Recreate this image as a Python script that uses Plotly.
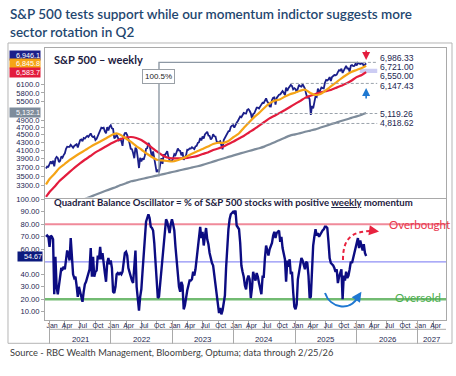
import math
import pandas as pd
import plotly.graph_objects as go

# ---------------- data ----------------
TITLE = "S&P 500 tests support while our momentum indictor suggests more<br>sector rotation in Q2"
SOURCE = "Source - RBC Wealth Management, Bloomberg, Optuma; data through 2/25/26"
PANEL1_TITLE = "S&P 500 – weekly"
PANEL2_TITLE = "Quadrant Balance Oscillator = % of S&P 500 stocks with positive <u>weekly</u> momentum"

week_start = "2020-12-11"  # first weekly bar (Fridays)

spx_close = [
    3663, 3709, 3703, 3756,
    3825, 3768, 3841, 3714, 3887, 3934, 3907, 3811, 3842, 3943, 3913, 3975,
    4020, 4129, 4185, 4180, 4181, 4233, 4174, 4156, 4204, 4230, 4247, 4166, 4281,
    4352, 4370, 4327, 4412, 4395, 4437, 4468, 4441, 4509, 4535, 4459, 4433, 4455,
    4357, 4391, 4471, 4545, 4605, 4698, 4683, 4698, 4595, 4538, 4712, 4620, 4725, 4766,
    4677, 4663, 4398, 4432, 4501, 4419, 4349, 4385, 4329, 4204, 4463, 4543,
    4546, 4488, 4393, 4272, 4132, 4123, 4024, 3901, 4158, 4109, 3901, 3675, 3912,
    3825, 3899, 3863, 3962, 4130, 4145, 4280, 4228, 4058, 3924, 4067, 3873, 3693, 3586,
    3640, 3583, 3753, 3901, 3771, 3993, 3965, 4026, 4072, 3934, 3852, 3845, 3840,
    3895, 3999, 3973, 4071, 4136, 4090, 4079, 3970, 4046, 3862, 3917, 3971, 4109,
    4105, 4138, 4134, 4169, 4136, 4124, 4192, 4205, 4282, 4299, 4410, 4348, 4450,
    4399, 4505, 4536, 4582, 4478, 4464, 4370, 4406, 4515, 4457, 4450, 4320, 4288,
    4308, 4327, 4224, 4117, 4358, 4415, 4514, 4559, 4595, 4604, 4719, 4754, 4770,
    4697, 4784, 4840, 4891, 4959, 5027, 5006, 5089, 5137, 5124, 5117, 5234, 5254,
    5204, 5123, 4967, 5100, 5128, 5223, 5303, 5305, 5278, 5347, 5432, 5465, 5460,
    5567, 5615, 5505, 5459, 5347, 5344, 5554, 5635, 5648, 5408, 5626, 5703, 5738,
    5751, 5815, 5865, 5808, 5729, 5995, 5870, 5969, 6032, 6090, 6051, 5931, 5971,
    5942, 5827, 5997, 6101, 6041, 6026, 6115, 6013, 5955, 5770, 5639, 5668, 5581,
    5074, 5363, 5283, 5525, 5687, 5660, 5958, 5802, 5912, 6000, 5977, 5967, 6173,
    6279, 6260, 6297, 6389, 6238, 6389, 6450, 6467, 6460, 6482, 6584, 6664, 6644,
    6716, 6553, 6664, 6792, 6840, 6729, 6734, 6603, 6849, 6870, 6827, 6834, 6930,
    6858, 6966, 6940, 6915, 6939, 6932, 6836, 6909, 6946.1,
]

osc_values = [
    70, 71, 70, 62, 71, 70, 68, 24, 54, 30,
    24, 32, 36, 45, 44, 46, 44, 52, 59, 56,
    51, 69, 55, 40, 37, 38, 31, 22, 30, 26,
    22, 18, 26, 32, 34, 38, 40, 44, 61, 38,
    54, 38, 42, 43, 55, 52, 62, 52, 57, 47,
    41, 34, 49, 53, 48, 51, 45, 26, 25, 30,
    40, 41, 40, 41, 40, 42, 50, 57, 58, 55,
    45, 41, 38, 35, 33, 50, 59, 30, 22, 11,
    22, 28, 42, 55, 70, 82, 85, 88, 85, 78,
    77, 75, 65, 52, 35, 21, 22, 33, 44, 54,
    63, 74, 84, 82, 76, 73, 80, 84, 80, 75,
    62, 50, 40, 30, 26, 34, 31, 12, 15, 22,
    27, 31, 35, 35, 36, 42, 39, 44, 52, 60,
    69, 78, 69, 74, 63, 70, 77, 68, 64, 57,
    52, 49, 47, 39, 31, 20, 14, 9, 13, 8,
    11, 16, 23, 45, 62, 76, 84, 88, 89, 90,
    89, 91, 79, 77, 76, 65, 47, 42, 38, 31,
    28, 36, 39, 36, 21, 29, 42, 38, 35, 41,
    38, 33, 28, 24, 38, 38, 53, 63, 59, 55,
    60, 62, 65, 71, 74, 69, 73, 74, 75, 66,
    70, 61, 57, 52, 34, 51, 46, 52, 40, 42,
    26, 14, 12, 16, 36, 42, 47, 53, 51, 46,
    44, 50, 49, 39, 21, 22, 42, 63, 70, 76,
    71, 73, 70, 72, 73, 75, 76, 78, 78, 77,
    66, 53, 49, 48, 47, 45, 42, 44, 33, 38,
    42, 44, 20, 39, 35, 42, 37, 39, 44, 50,
    49, 53, 55, 60, 63, 69, 61, 67, 63, 59,
    64, 57, 54.67,
]

# moving averages, read monthly: first bar, 1st of each month Jan-2021..Feb-2026, last bar
ma_dates = (["2020-12-11"]
            + [f"{y}-{m:02d}-01" for y in range(2021, 2027) for m in range(1, 13) if (y, m) <= (2026, 2)]
            + ["2026-02-27"])
ma_orange = [3324,
             3438, 3555, 3675, 3766, 3859, 3942, 4019, 4097, 4178, 4252, 4323, 4397,
             4479, 4534, 4493, 4397, 4306, 4201, 4113, 4014, 3930, 3864, 3848, 3836,
             3824, 3852, 3894, 3953, 4014, 4076, 4126, 4188, 4252, 4286, 4283, 4331,
             4438, 4534, 4689, 4846, 5001, 5139, 5295, 5442, 5537, 5573, 5676, 5758,
             5810, 5883, 5919, 5800, 5730, 5765, 5889, 6034, 6181, 6332, 6470, 6587,
             6671, 6752,
             6845.8]
ma_red = [3085,
          3177, 3285, 3396, 3493, 3590, 3690, 3782, 3870, 3953, 4040, 4113, 4188,
          4266, 4331, 4384, 4425, 4438, 4411, 4358, 4266, 4163, 4064, 3978, 3918,
          3899, 3899, 3899, 3910, 3930, 3957, 4002, 4040, 4101, 4136, 4188, 4252,
          4317, 4397, 4466, 4562, 4652, 4757, 4861, 4970, 5052, 5139, 5231, 5327,
          5430, 5530, 5630, 5700, 5765, 5818, 5862, 5907, 5983, 6061, 6143, 6249,
          6386, 6470,
          6583.7]
ma_gray = [2820,
           2840, 2870, 2900, 2930, 2960, 2990, 3020, 3050, 3085, 3123, 3161, 3199,
           3237, 3275, 3313, 3351, 3390, 3412, 3437, 3461, 3486, 3510, 3535, 3560,
           3586, 3612, 3637, 3663, 3689, 3715, 3745, 3782, 3820, 3857, 3895, 3932,
           3970, 4005, 4040, 4075, 4110, 4145, 4185, 4240, 4300, 4360, 4420, 4475,
           4510, 4545, 4580, 4615, 4650, 4700, 4745, 4795, 4840, 4890, 4935, 4985,
           5030, 5080,
           5132.1]

# annotated price levels
level_values = [6986.33, 6147.43, 5119.26, 4818.62]
level_starts = ["2026-01-09", "2024-12-06", "2024-08-02", "2022-01-04"]
zone_low, zone_high = 6550.00, 6721.00
zone_start = "2026-01-20"
level_end = "2026-05-04"
label_values = [6986.33, 6721.00, 6550.00, 6147.43, 5119.26, 4818.62]
label_shift = [4, 2, -3, -3, 0, 0]

measure_low_date, measure_low = "2022-10-14", 3491.0
measure_high = 6986.33
measure_text = "100.5%"

top_ticks = [3300, 3500, 3700, 3900, 4100, 4300, 4500, 4700, 4900, 5500, 5800, 6100]
osc_ticks = [10, 20, 30, 40, 60, 70, 80, 90, 100]
osc_lines = [(80, "#f08a9a", 2.2), (50, "#8f8ff5", 1.2), (20, "#72bb72", 2.6)]
year_labels = [2021, 2022, 2023, 2024, 2025, 2026, 2027]
x_range = ["2020-12-05", "2027-06-17"]

# ---------------- styling ----------------
NAVY = "#1b1f8a"
ORANGE = "#f5a416"
RED = "#e31c3d"
GRAY = "#7e8c9b"
AX = "#1c2650"
LINEC = "#a9a9a9"
FONT = "Liberation Sans"

spx_dates = pd.date_range(week_start, periods=len(spx_close), freq="W-FRI")
osc_dates = pd.date_range(week_start, periods=len(osc_values), freq="W-FRI")

fig = go.Figure()

# top panel
fig.add_trace(go.Scatter(x=spx_dates, y=spx_close, mode="lines", xaxis="x2", yaxis="y",
                         line=dict(color=NAVY, width=1.8), hoverinfo="skip"))
fig.add_trace(go.Scatter(x=ma_dates, y=ma_gray, mode="lines", xaxis="x2", yaxis="y",
                         line=dict(color=GRAY, width=2.2, shape="spline", smoothing=0.6), hoverinfo="skip"))
fig.add_trace(go.Scatter(x=ma_dates, y=ma_red, mode="lines", xaxis="x2", yaxis="y",
                         line=dict(color=RED, width=2.2, shape="spline", smoothing=0.6), hoverinfo="skip"))
fig.add_trace(go.Scatter(x=ma_dates, y=ma_orange, mode="lines", xaxis="x2", yaxis="y",
                         line=dict(color=ORANGE, width=2.2, shape="spline", smoothing=0.6), hoverinfo="skip"))

# measurement line
fig.add_trace(go.Scatter(x=[measure_low_date, measure_low_date, level_starts[0]],
                         y=[measure_low, measure_high, measure_high], mode="lines",
                         xaxis="x2", yaxis="y", line=dict(color="#8d98a4", width=1.4), hoverinfo="skip"))
# dashed level lines
for v, s in zip(level_values, level_starts):
    fig.add_trace(go.Scatter(x=[s, level_end], y=[v, v], mode="lines", xaxis="x2", yaxis="y",
                             line=dict(color="#9aa2ab", width=1, dash="3px,2px"), hoverinfo="skip"))

# bottom panel
fig.add_trace(go.Scatter(x=osc_dates, y=osc_values, mode="lines", xaxis="x", yaxis="y2",
                         line=dict(color="#0c0c82", width=2.4), hoverinfo="skip"))
# helper trace so the year-separator axis renders
fig.add_trace(go.Scatter(x=osc_dates[:1], y=osc_values[:1], mode="markers", xaxis="x3", yaxis="y2",
                         marker=dict(opacity=0), hoverinfo="skip"))

shapes = []
for lv, col, w in osc_lines:
    shapes.append(dict(type="line", xref="paper", x0=0, x1=1, yref="y2", y0=lv, y1=lv,
                       line=dict(color=col, width=w), layer="below"))
shapes.append(dict(type="rect", xref="x2", x0=zone_start, x1=level_end, yref="y", y0=zone_low, y1=zone_high,
                   fillcolor="rgba(170,170,235,0.6)", line=dict(width=0), layer="below"))
# outer frame
shapes.append(dict(type="rect", xref="paper", yref="paper", x0=-0.0923, x1=1.015, y0=-0.0857, y1=1.0184,
                   line=dict(color="#b5b5b5", width=1)))
# border under the month row
shapes.append(dict(type="line", xref="x", x0=f"{year_labels[0]}-01-01", x1=x_range[1], yref="paper",
                   y0=-0.0342, y1=-0.0342, line=dict(color=LINEC, width=1)))
# curved arrows
shapes.append(dict(type="path", xref="paper", yref="paper",
                   path="M 0.7431 0.2206 C 0.7431 0.2990 0.7630 0.3272 0.8180 0.3272",
                   line=dict(color="#e8233f", width=2, dash="4px,3px")))
shapes.append(dict(type="path", xref="paper", yref="paper",
                   path="M 0.6983 0.0993 C 0.7107 0.0441 0.7606 0.0294 0.7805 0.0846",
                   line=dict(color="#1f78d1", width=2)))

ann = []
ann.append(dict(xref="paper", yref="paper", x=-0.0923, y=(320 - 4) / 272, xanchor="left", yanchor="top",
                text=TITLE, align="left", showarrow=False,
                font=dict(size=13.5, color="#1f4770", family="Lato", weight=600)))
ann.append(dict(xref="paper", yref="paper", x=0.0167, y=0.9559, xanchor="left", yanchor="middle",
                text=f"<b>{PANEL1_TITLE}</b>", showarrow=False, font=dict(size=11, color="#1c2040", family="Lato")))
ann.append(dict(xref="paper", yref="paper", x=0.0167, y=0.4338, xanchor="left", yanchor="middle",
                text=f"<b>{PANEL2_TITLE}</b>", showarrow=False, font=dict(size=9.6, color="#1c2040", family="Lato")))
ann.append(dict(xref="paper", yref="paper", x=0.852, y=0.3529, xanchor="left", yanchor="middle",
                text="Overbought", showarrow=False, font=dict(size=11.5, color="#e8354a", family="Lato")))
ann.append(dict(xref="paper", yref="paper", x=0.867, y=0.0809, xanchor="left", yanchor="middle",
                text="Oversold", showarrow=False, font=dict(size=11.5, color="#4cae4f", family="Lato")))
# arrow heads for curved arrows
ann.append(dict(xref="paper", yref="paper", x=0.8330, y=0.3250, ax=-7, ay=-1, text="", showarrow=True,
                arrowhead=2, arrowsize=1, arrowwidth=2, arrowcolor="#e8233f"))
ann.append(dict(xref="paper", yref="paper", x=0.7890, y=0.1040, ax=-4, ay=6, text="", showarrow=True,
                arrowhead=2, arrowsize=1, arrowwidth=2, arrowcolor="#1f78d1"))
# vertical arrows at last bar
ann.append(dict(xref="x2", yref="y", x=spx_dates[-1], y=math.log10(7088), ax=0, ay=-11, text="",
                showarrow=True, arrowhead=2, arrowsize=1, arrowwidth=1.6, arrowcolor=RED))
ann.append(dict(xref="x2", yref="y", x=spx_dates[-1], y=math.log10(5979), ax=0, ay=12, text="",
                showarrow=True, arrowhead=2, arrowsize=1, arrowwidth=1.6, arrowcolor="#1f78d1"))
# measurement label
ann.append(dict(xref="x2", yref="y", x=measure_low_date, y=math.log10(6403), text=measure_text,
                showarrow=False, bgcolor="white", bordercolor="#9aa0a6", borderwidth=1, borderpad=2,
                font=dict(size=8, color="#222", family=FONT)))
# right-side level labels
for v, sh in zip(label_values, label_shift):
    ann.append(dict(xref="x2", yref="y", x="2026-05-06", y=math.log10(v), yshift=sh, xanchor="left",
                    yanchor="middle", text=f"{v:,.2f}", showarrow=False,
                    font=dict(size=8.6, color=AX, family=FONT)))
# left value boxes (last values)
box_specs = [(spx_close[-1], NAVY, 8), (ma_orange[-1], ORANGE, 2), (ma_red[-1], RED, 0), (ma_gray[-1], GRAY, 1)]
for v, col, sh in box_specs:
    ann.append(dict(xref="paper", yref="y", x=0, xshift=-4, xanchor="right", y=math.log10(v), yshift=sh,
                    yanchor="middle", text=f"{v:,.1f}", showarrow=False, bgcolor=col, width=30, align="right",
                    borderpad=0, font=dict(size=7.2, color="white", family=FONT)))
ann.append(dict(xref="paper", yref="y2", x=0, xshift=-2, xanchor="right", y=osc_values[-1], yshift=-1,
                yanchor="middle", text=f"{osc_values[-1]:.2f}", showarrow=False, bgcolor="#0c1a7e", width=24,
                align="right", borderpad=0, font=dict(size=7.2, color="white", family=FONT)))
ann.append(dict(xref="paper", yref="y2", x=0, xshift=-4, xanchor="right", y=0, yanchor="middle",
                text="0.00", showarrow=False, font=dict(size=7.6, color=AX, family=FONT)))
# year labels centred in visible span
r0, r1 = pd.Timestamp(x_range[0]), pd.Timestamp(x_range[1])
for yr in year_labels:
    s = max(pd.Timestamp(f"{yr}-01-01"), r0)
    e = min(pd.Timestamp(f"{yr + 1}-01-01"), r1)
    c = s + (e - s) / 2
    ann.append(dict(xref="x", yref="paper", x=c, y=-0.0699, yanchor="middle", text=str(yr),
                    showarrow=False, font=dict(size=7.8, color=AX, family=FONT)))
ann.append(dict(xref="paper", yref="paper", x=-0.0923, y=-0.1213, xanchor="left", yanchor="middle",
                text=SOURCE, showarrow=False, font=dict(size=9.3, color="#3c3c3c", family="Lato")))

split = 122.5 / 272.0
tickfont = dict(size=7.6, color=AX, family=FONT)

fig.update_layout(
    width=456, height=376,
    margin=dict(l=45, r=10, t=48, b=56, pad=0),
    paper_bgcolor="white", plot_bgcolor="white",
    showlegend=False,
    font=dict(family=FONT),
    xaxis=dict(domain=[0, 1], anchor="y2", type="date", range=x_range,
               ticklabelmode="period", dtick="M3", tick0="2021-01-01", tickformat="%b",
               ticks="outside", ticklen=9, tickcolor=LINEC, tickwidth=1, ticklabelstandoff=-10,
               tickfont=dict(size=7, color=AX, family=FONT),
               showline=True, linecolor=LINEC, showgrid=False, zeroline=False),
    xaxis2=dict(domain=[0, 1], anchor="y", type="date", matches="x", showticklabels=False, ticks="",
                showline=True, linecolor=LINEC, mirror=True, showgrid=False, zeroline=False),
    xaxis3=dict(overlaying="x", anchor="y2", type="date", range=x_range, dtick="M12", tick0="2021-01-01",
                ticks="outside", ticklen=23, tickcolor=LINEC, showticklabels=False, showgrid=False,
                showline=False, zeroline=False),
    yaxis=dict(domain=[split, 1], anchor="x2", type="log", range=[3.4874, 3.8822],
               tickvals=top_ticks, tickformat=".1f", ticks="outside", ticklen=3, tickcolor=LINEC,
               tickfont=tickfont, showline=True, linecolor=LINEC, mirror=True, showgrid=False, zeroline=False),
    yaxis2=dict(domain=[0, split], anchor="x", range=[3.44, 101.4],
                tickvals=osc_ticks, tickformat=".2f", ticks="outside", ticklen=3, tickcolor=LINEC,
                tickfont=tickfont, showline=True, linecolor=LINEC, mirror=True, showgrid=False, zeroline=False),
    shapes=shapes,
    annotations=ann,
)

fig.write_html("out.html", config={"displayModeBar": False},
               post_script="document.body.style.margin='0';document.body.style.overflow='hidden';")
